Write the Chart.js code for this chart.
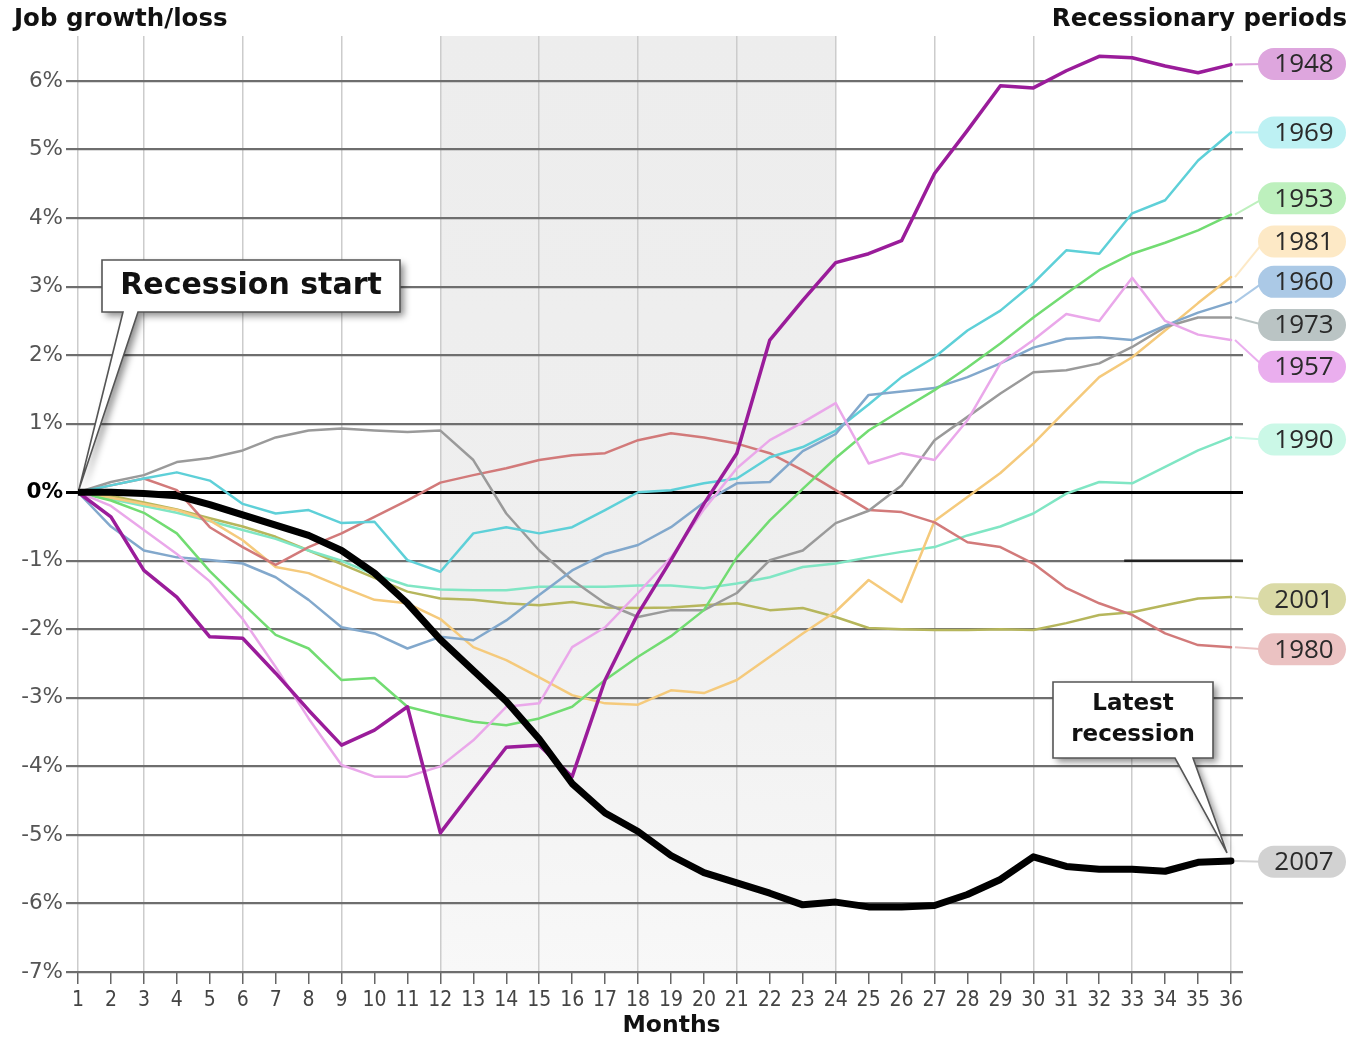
<!DOCTYPE html>
<html><head><meta charset="utf-8">
<script src="https://cdn.jsdelivr.net/npm/chart.js@4.4.1/dist/chart.umd.min.js"></script>
<style>html,body{margin:0;padding:0;background:#fff;}canvas{display:block}</style>
</head><body>
<canvas id="c" width="1354" height="1038"></canvas>
<script>
// ---------- DATA ----------
const months = [1,2,3,4,5,6,7,8,9,10,11,12,13,14,15,16,17,18,19,20,21,22,23,24,25,26,27,28,29,30,31,32,33,34,35,36];
const monthLabels = months.map(String);
const yTickValues = [-7,-6,-5,-4,-3,-2,-1,0,1,2,3,4,5,6];
const seriesNames = ['2007','1948','1957','1953','1960','1969','1973','1980','1981','1990','2001'];

const s2007 = [0,0,-0.02,-0.05,-0.18,-0.33,-0.48,-0.63,-0.85,-1.18,-1.62,-2.15,-2.6,-3.05,-3.6,-4.25,-4.68,-4.95,-5.3,-5.55,-5.7,-5.85,-6.02,-5.98,-6.05,-6.05,-6.03,-5.87,-5.65,-5.32,-5.46,-5.5,-5.5,-5.53,-5.4,-5.38];
const s1948 = [0,-0.36,-1.14,-1.53,-2.11,-2.13,-2.64,-3.18,-3.69,-3.47,-3.13,-4.97,-4.34,-3.72,-3.69,-4.15,-2.74,-1.77,-0.99,-0.17,0.57,2.22,2.8,3.35,3.48,3.67,4.65,5.28,5.93,5.9,6.15,6.36,6.34,6.22,6.12,6.24];
const s1957 = [0,-0.2,-0.55,-0.9,-1.3,-1.85,-2.55,-3.3,-3.98,-4.15,-4.15,-4.0,-3.62,-3.13,-3.08,-2.26,-1.97,-1.47,-0.95,-0.25,0.35,0.76,1.02,1.3,0.42,0.57,0.47,1.05,1.88,2.22,2.6,2.5,3.13,2.5,2.3,2.22];
const s1953 = [0,-0.12,-0.3,-0.6,-1.15,-1.62,-2.08,-2.28,-2.74,-2.71,-3.13,-3.25,-3.35,-3.4,-3.3,-3.13,-2.74,-2.4,-2.1,-1.72,-0.95,-0.41,0.05,0.5,0.9,1.2,1.49,1.82,2.17,2.55,2.9,3.24,3.48,3.64,3.82,4.05];
const s1960 = [0,-0.5,-0.85,-0.95,-0.99,-1.04,-1.24,-1.57,-1.97,-2.06,-2.28,-2.11,-2.16,-1.87,-1.5,-1.14,-0.9,-0.77,-0.51,-0.15,0.13,0.15,0.6,0.85,1.42,1.47,1.52,1.68,1.88,2.11,2.24,2.26,2.22,2.43,2.62,2.77];
const s1969 = [0,0.1,0.2,0.29,0.17,-0.17,-0.31,-0.26,-0.45,-0.43,-0.99,-1.16,-0.6,-0.51,-0.6,-0.51,-0.26,0,0.03,0.13,0.2,0.51,0.66,0.9,1.28,1.68,1.97,2.36,2.65,3.05,3.53,3.48,4.07,4.26,4.84,5.25];
const s1973 = [0,0.15,0.25,0.44,0.5,0.61,0.8,0.9,0.93,0.9,0.88,0.9,0.47,-0.31,-0.85,-1.28,-1.62,-1.82,-1.72,-1.72,-1.47,-0.99,-0.85,-0.45,-0.27,0.1,0.76,1.1,1.44,1.75,1.78,1.88,2.12,2.41,2.55,2.55];
const s1980 = [0,0.1,0.2,0.03,-0.51,-0.8,-1.06,-0.8,-0.6,-0.36,-0.12,0.14,0.25,0.35,0.47,0.54,0.57,0.76,0.86,0.8,0.71,0.57,0.32,0.03,-0.26,-0.29,-0.44,-0.73,-0.8,-1.04,-1.4,-1.62,-1.79,-2.06,-2.23,-2.26];
const s1981 = [0,-0.08,-0.17,-0.26,-0.41,-0.7,-1.09,-1.18,-1.38,-1.57,-1.62,-1.85,-2.26,-2.45,-2.7,-2.96,-3.08,-3.1,-2.89,-2.93,-2.74,-2.4,-2.06,-1.74,-1.28,-1.6,-0.42,-0.07,0.28,0.71,1.2,1.68,1.97,2.36,2.76,3.14];
const s1990 = [0,-0.1,-0.2,-0.3,-0.42,-0.55,-0.68,-0.85,-1.0,-1.2,-1.36,-1.42,-1.43,-1.43,-1.38,-1.38,-1.38,-1.36,-1.36,-1.4,-1.33,-1.24,-1.09,-1.04,-0.95,-0.87,-0.8,-0.63,-0.5,-0.31,-0.02,0.15,0.13,0.37,0.61,0.8];
const s2001 = [0,-0.05,-0.15,-0.25,-0.38,-0.5,-0.65,-0.85,-1.05,-1.25,-1.45,-1.55,-1.57,-1.62,-1.65,-1.6,-1.68,-1.69,-1.68,-1.65,-1.62,-1.72,-1.69,-1.82,-1.98,-2.0,-2.01,-2.01,-2.0,-2.01,-1.91,-1.79,-1.75,-1.65,-1.55,-1.53];
const seriesValues = [s2007,s1948,s1957,s1953,s1960,s1969,s1973,s1980,s1981,s1990,s2001];

const shadeStart = 12, shadeEnd = 24;

// ---------- STYLE / LAYOUT ----------
const FONT = '"DejaVu Sans", "Open Sans", sans-serif';
const NARROW = '"Liberation Sans Narrow", "DejaVu Sans Condensed", "Open Sans", sans-serif';
const style = {
  '2007': {line:'#000000', width:7,   pill:'#d2d2d2'},
  '1948': {line:'#9a1c9a', width:3.5, pill:'#dea6de'},
  '1957': {line:'#eaa8ea', width:2.5, pill:'#eaaeee'},
  '1953': {line:'#72dc72', width:2.5, pill:'#bdf0bd'},
  '1960': {line:'#82a8cc', width:2.5, pill:'#abc9e6'},
  '1969': {line:'#5ed0d8', width:2.5, pill:'#bdf1f3'},
  '1973': {line:'#9a9a9a', width:2.5, pill:'#bac4c4'},
  '1980': {line:'#d27a7a', width:2.5, pill:'#ebc2c2'},
  '1981': {line:'#f5ca7c', width:2.5, pill:'#fde9c6'},
  '1990': {line:'#80e6c4', width:2.5, pill:'#cbf8e7'},
  '2001': {line:'#b6b65c', width:2.5, pill:'#dadaa6'}
};
// label vertical positions in value units (layout only)
const pillPos = {'1948':6.25,'1969':5.25,'1953':4.29,'1981':3.66,'1960':3.07,'1973':2.44,'1957':1.83,'1990':0.77,'2001':-1.56,'1980':-2.29,'2007':-5.39};

const datasets = seriesNames.map((n,i)=>({
  label:n,
  data: months.map((m,j)=>({x:m, y:seriesValues[i][j]})),
  borderColor: style[n].line,
  borderWidth: style[n].width,
  pointRadius:0, tension:0, fill:false,
  borderJoinStyle:'round', borderCapStyle:'round'
}));

function roundRect(ctx,x,y,w,h,r){
  ctx.beginPath();
  ctx.moveTo(x+r,y); ctx.lineTo(x+w-r,y); ctx.arc(x+w-r,y+r,r,-Math.PI/2,0);
  ctx.lineTo(x+w,y+h-r); ctx.arc(x+w-r,y+h-r,r,0,Math.PI/2);
  ctx.lineTo(x+r,y+h); ctx.arc(x+r,y+h-r,r,Math.PI/2,Math.PI);
  ctx.lineTo(x,y+r); ctx.arc(x+r,y+r,r,Math.PI,Math.PI*1.5);
  ctx.closePath();
}
function callout(ctx, bx,by,bw,bh, p1,p2, apex, lines, size, lh){
  ctx.save();
  ctx.beginPath();
  ctx.moveTo(bx,by); ctx.lineTo(bx+bw,by); ctx.lineTo(bx+bw,by+bh);
  ctx.lineTo(p2,by+bh); ctx.lineTo(apex[0],apex[1]); ctx.lineTo(p1,by+bh);
  ctx.lineTo(bx,by+bh); ctx.closePath();
  ctx.shadowColor='rgba(0,0,0,0.45)'; ctx.shadowBlur=7; ctx.shadowOffsetX=4; ctx.shadowOffsetY=4;
  ctx.fillStyle='#fff'; ctx.fill();
  ctx.shadowColor='transparent';
  ctx.strokeStyle='#555'; ctx.lineWidth=1.6; ctx.stroke();
  ctx.fillStyle='#111'; ctx.font='bold '+size+'px '+FONT;
  ctx.textAlign='center'; ctx.textBaseline='middle';
  const cy = by + bh/2 - (lines.length-1)*lh/2;
  lines.forEach((t,i)=>ctx.fillText(t, bx+bw/2, cy+i*lh));
  ctx.restore();
}

const decor = {
  id:'decor',
  beforeDraw(chart){
    const {ctx, chartArea:a, scales:{x}} = chart;
    ctx.save();
    ctx.fillStyle='#fff'; ctx.fillRect(0,0,chart.width,chart.height);
    const x0=x.getPixelForValue(shadeStart), x1=x.getPixelForValue(shadeEnd);
    const g=ctx.createLinearGradient(0,a.top,0,a.bottom);
    g.addColorStop(0,'#ededed'); g.addColorStop(0.6,'#efefef'); g.addColorStop(1,'#f8f8f8');
    ctx.fillStyle=g; ctx.fillRect(x0,a.top,x1-x0,a.bottom-a.top);
    ctx.restore();
  },
  beforeDatasetsDraw(chart){
    const {ctx, chartArea:a, scales:{x,y}} = chart;
    ctx.save();
    ctx.strokeStyle='#222'; ctx.lineWidth=2.5;
    ctx.beginPath(); ctx.moveTo(x.getPixelForValue(33)-8, y.getPixelForValue(-1)); ctx.lineTo(a.right, y.getPixelForValue(-1)); ctx.stroke();
    ctx.restore();
  },
  afterDraw(chart){
    const {ctx, chartArea:a, scales:{x,y}} = chart;
    ctx.save();
    // titles
    ctx.fillStyle='#111'; ctx.font='bold 24.5px '+FONT; ctx.textBaseline='middle';
    ctx.textAlign='left'; ctx.fillText('Job growth/loss', 14, 20);
    ctx.textAlign='right'; ctx.fillText('Recessionary periods', 1347, 20);
    ctx.textAlign='center'; ctx.font='bold 23.5px '+FONT; ctx.fillText('Months', (x.getPixelForValue(1)+x.getPixelForValue(36))/2+17, 1026);
    // pills
    const lastX = x.getPixelForValue(months[months.length-1]);
    seriesNames.forEach((n,i)=>{
      const vals=seriesValues[i];
      const ey=y.getPixelForValue(vals[vals.length-1]);
      const py=y.getPixelForValue(pillPos[n]);
      const pl=1258, pw=88, ph=32;
      ctx.strokeStyle=style[n].pill; ctx.lineWidth=2;
      ctx.beginPath(); ctx.moveTo(lastX+4,ey); ctx.lineTo(pl+6,py); ctx.stroke();
      ctx.fillStyle=style[n].pill;
      roundRect(ctx,pl,py-ph/2,pw,ph,ph/2); ctx.fill();
      ctx.fillStyle='#2a2a2a'; ctx.font='26px "Open Sans", sans-serif'; ctx.textAlign='center'; ctx.textBaseline='middle';
      ctx.fillText(n, pl+pw/2+2, py+1);
    });
    // callouts
    const ox=x.getPixelForValue(1), oy=y.getPixelForValue(0);
    callout(ctx, 102,260,298,52, 123,138, [ox+1,oy-3], ['Recession start'], 30, 0);
    const lx=x.getPixelForValue(36), ly=y.getPixelForValue(s2007[35]);
    callout(ctx, 1053,682,160,76, 1175,1193, [lx-4,ly-8], ['Latest','recession'], 23, 31);
    ctx.restore();
  }
};

new Chart(document.getElementById('c'), {
  type:'line',
  data:{datasets},
  options:{
    responsive:false, animation:false, events:[],
    layout:{padding:{left:0,right:111,top:36,bottom:0}},
    plugins:{legend:{display:false}, tooltip:{enabled:false}, title:{display:false}},
    scales:{
      x:{
        type:'linear', min:1, max:36.364,
        afterBuildTicks:s=>{ s.ticks = months.map(v=>({value:v})); },
        afterFit:s=>{ s.height = 66; },
        border:{display:false},
        grid:{
          color:c=>(c.tick && (c.tick.value===1 || c.tick.value%3===0)) ? '#cccccc' : 'rgba(0,0,0,0)',
          lineWidth:1.5, tickColor:'#666', tickLength:12, drawTicks:true
        },
        ticks:{autoSkip:false, maxRotation:0, padding:4, color:'#444',
          font:{family:NARROW, size:21},
          callback:(v)=>monthLabels[months.indexOf(v)]}
      },
      y:{
        type:'linear', min:-7, max:6.657,
        afterBuildTicks:s=>{ s.ticks = yTickValues.map(v=>({value:v})); },
        afterFit:s=>{ s.width = 78; },
        border:{display:false},
        grid:{
          color:c=>c.tick && c.tick.value===0 ? '#000' : '#6e6e6e',
          tickColor:c=>c.tick && c.tick.value===0 ? '#000' : '#6e6e6e',
          lineWidth:c=>c.tick && c.tick.value===0 ? 3 : 2.2,
          tickLength:12
        },
        ticks:{padding:3,
          color:c=>c.tick && c.tick.value===0 ? '#000' : '#555',
          font:c=>({family:FONT, size:21.5, weight:(c.tick && c.tick.value===0)?'bold':'normal'}),
          callback:v=>v+'%'}
      }
    }
  },
  plugins:[decor]
});
</script>
</body></html>
